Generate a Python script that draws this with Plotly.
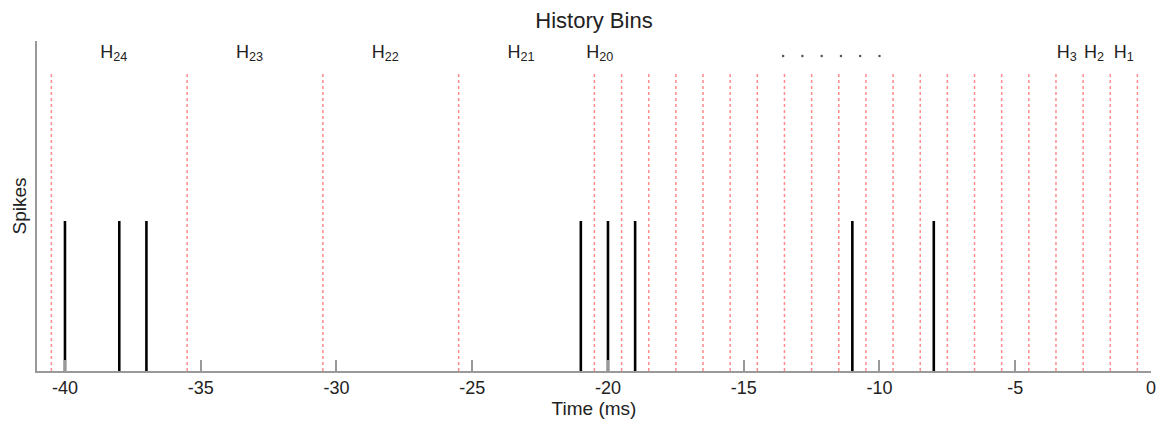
import plotly.graph_objects as go

# ---- data ----
spike_times = [-40, -38, -37, -21, -20, -19, -11, -8]
spike_heights = [1, 1, 1, 1, 1, 1, 1, 1]
bin_edges = [-40.5, -35.5, -30.5, -25.5, -20.5, -19.5, -18.5, -17.5, -16.5, -15.5,
             -14.5, -13.5, -12.5, -11.5, -10.5, -9.5, -8.5, -7.5, -6.5, -5.5,
             -4.5, -3.5, -2.5, -1.5, -0.5]
edge_height = 2.0
label_names = ["H<sub>24</sub>", "H<sub>23</sub>", "H<sub>22</sub>", "H<sub>21</sub>",
               "H<sub>20</sub>", "H<sub>3</sub>", "H<sub>2</sub>", "H<sub>1</sub>"]
label_x = [-38.2, -33.2, -28.2, -23.2, -20.3, -3.1, -2.1, -1.0]
label_y = 2.12
dots_x = [-13.55, -12.84, -12.13, -11.42, -10.71, -10.0]
dots_y = 2.1
x_ticks = [-40, -35, -30, -25, -20, -15, -10, -5, 0]
x_tick_text = ["-40", "-35", "-30", "-25", "-20", "-15", "-10", "-5", "0"]

FONT = "Liberation Sans, Arial, sans-serif"

fig = go.Figure()

# red dotted bin edges
ex, ey = [], []
for b in bin_edges:
    ex += [b, b, None]
    ey += [0, edge_height, None]
fig.add_trace(go.Scatter(x=ex, y=ey, mode="lines",
                         line=dict(color="rgba(255,90,90,0.7)", width=1.5, dash="dot"),
                         hoverinfo="skip", showlegend=False))

# spikes
sx, sy = [], []
for t, h in zip(spike_times, spike_heights):
    sx += [t, t, None]
    sy += [0, h, None]
fig.add_trace(go.Scatter(x=sx, y=sy, mode="lines",
                         line=dict(color="black", width=2.6),
                         hoverinfo="skip", showlegend=False))

# bin labels
fig.add_trace(go.Scatter(x=label_x, y=[label_y] * len(label_x), mode="text",
                         text=label_names, textposition="middle center",
                         textfont=dict(family=FONT, size=18, color="#222"),
                         hoverinfo="skip", showlegend=False))

# dots
fig.add_trace(go.Scatter(x=dots_x, y=[dots_y] * len(dots_x), mode="markers",
                         marker=dict(color="#555", size=2.5),
                         hoverinfo="skip", showlegend=False))

fig.update_layout(
    width=1167, height=424,
    margin=dict(l=37, r=16, t=41, b=53),
    paper_bgcolor="white", plot_bgcolor="white",
    font=dict(family=FONT, color="#222"),
    title=dict(text="History Bins", x=0.509, xanchor="center", y=0.953, yanchor="middle",
               font=dict(family=FONT, size=22, color="#222")),
    xaxis=dict(range=[-41.03, 0], tickvals=x_ticks, ticktext=x_tick_text,
               ticks="inside", ticklen=11,
               tickcolor="#999", tickwidth=1.5, showline=True, linecolor="#999", linewidth=1.5,
               showgrid=False, zeroline=False, tickfont=dict(family=FONT, size=18, color="#222"),
               title=dict(text="Time (ms)", font=dict(family=FONT, size=19, color="#222"), standoff=0)),
    yaxis=dict(range=[0, 2.2], showticklabels=False, ticks="", showline=True,
               linecolor="#999", linewidth=1.5, showgrid=False, zeroline=False,
               title=dict(text="Spikes", font=dict(family=FONT, size=19, color="#222"), standoff=4)),
)

fig.write_html("out.html")
